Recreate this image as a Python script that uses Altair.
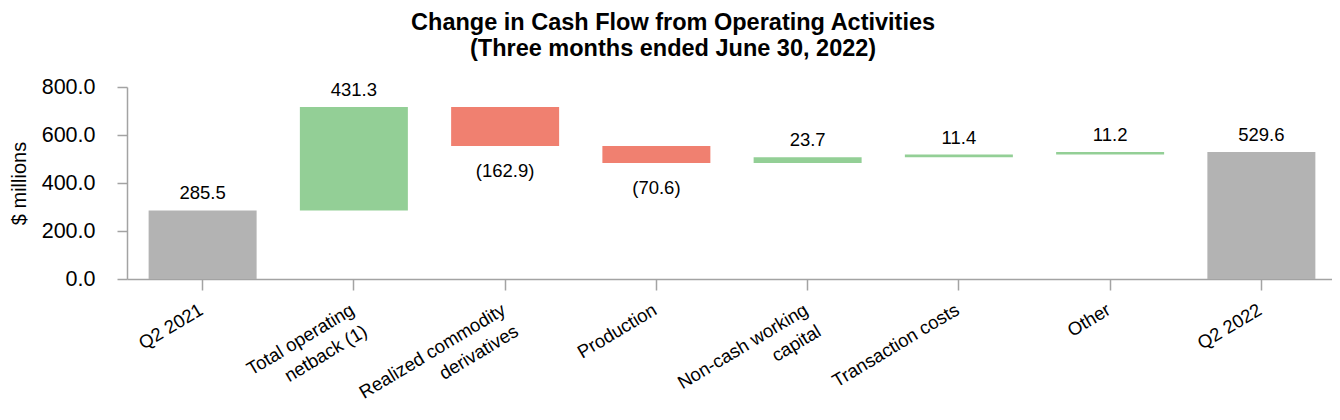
import altair as alt
import pandas as pd

categories = [
    "Q2 2021",
    "Total operating|netback (1)",
    "Realized commodity|derivatives",
    "Production",
    "Non-cash working|capital",
    "Transaction costs",
    "Other",
    "Q2 2022",
]
amounts = [285.5, 431.3, -162.9, -70.6, 23.7, 11.4, 11.2, 529.6]
kinds = ["total", "delta", "delta", "delta", "delta", "delta", "delta", "total"]
y_ticks = [0, 200, 400, 600, 800]

rows = []
running = 0.0
for cat, amt, kind in zip(categories, amounts, kinds):
    if kind == "total":
        start, end = 0.0, amt
        running = amt
        col = "total"
    else:
        start, end = running, running + amt
        running = end
        col = "up" if amt >= 0 else "down"
    label = f"({abs(amt):.1f})" if amt < 0 else f"{amt:.1f}"
    rows.append(dict(category=cat, amount=amt, start=start, end=end, color=col, label=label))
df = pd.DataFrame(rows)

FONT = "Liberation Sans"
AXIS_GREY = "#a3a3a3"

x_enc = alt.X(
    "category:N",
    sort=categories,
    scale=alt.Scale(range=[0, 1210], paddingInner=0.286, paddingOuter=0.143),
    axis=alt.Axis(
        title=None,
        labelAngle=-31,
        labelAlign="right",
        labelBaseline="top",
        labelExpr="split(datum.label, '|')",
        labelFont=FONT,
        labelFontSize=18.5,
        labelLineHeight=25,
        labelColor="#000000",
        labelPadding=10,
        labelOffset=-6,
        tickSize=11,
        tickColor=AXIS_GREY,
        tickWidth=1.5,
        domainColor=AXIS_GREY,
        domainWidth=1.5,
    ),
)

y_scale = alt.Scale(domain=[0, 800], nice=False)

base = alt.Chart(df)

bars = base.mark_bar().encode(
    x=x_enc,
    y=alt.Y(
        "start:Q",
        scale=y_scale,
        axis=alt.Axis(
            values=y_ticks,
            format=".1f",
            title="$ millions",
            titleFont=FONT,
            titleFontSize=20,
            titleFontWeight="normal",
            titleColor="#000000",
            titlePadding=12,
            labelFont=FONT,
            labelFontSize=21.5,
            labelColor="#000000",
            labelPadding=22,
            tickSize=10,
            tickColor=AXIS_GREY,
            tickWidth=1.5,
            domainColor=AXIS_GREY,
            domainWidth=1.5,
            grid=False,
        ),
    ),
    y2="end:Q",
    color=alt.Color(
        "color:N",
        scale=alt.Scale(domain=["total", "up", "down"], range=["#b3b3b3", "#93cf96", "#f08070"]),
        legend=None,
    ),
)

pos_text = base.transform_filter("datum.amount >= 0").mark_text(
    font=FONT, fontSize=18.5, color="#000000", baseline="alphabetic", dy=-11
).encode(
    x=alt.X("category:N", sort=categories),
    y=alt.Y("end:Q", scale=y_scale),
    text="label:N",
)

neg_text = base.transform_filter("datum.amount < 0").mark_text(
    font=FONT, fontSize=18.5, color="#000000", baseline="alphabetic", dy=31
).encode(
    x=alt.X("category:N", sort=categories),
    y=alt.Y("end:Q", scale=y_scale),
    text="label:N",
)

chart = (
    alt.layer(bars, pos_text, neg_text)
    .properties(
        width=1205,
        height=192,
        autosize=alt.AutoSizeParams(type="none"),
        padding={"left": 119, "top": 79, "right": 0, "bottom": 125},
        title=alt.TitleParams(
            text=["Change in Cash Flow from Operating Activities", "(Three months ended June 30, 2022)"],
            font=FONT,
            fontSize=23.5,
            fontWeight="bold",
            lineHeight=26,
            color="#000000",
            anchor="middle",
            frame="bounds",
            offset=16,
        ),
    )
    .configure_view(stroke=None)
    .configure_axis(grid=False)
)

chart.save("out.html", embed_options={"renderer": "svg", "actions": False})
